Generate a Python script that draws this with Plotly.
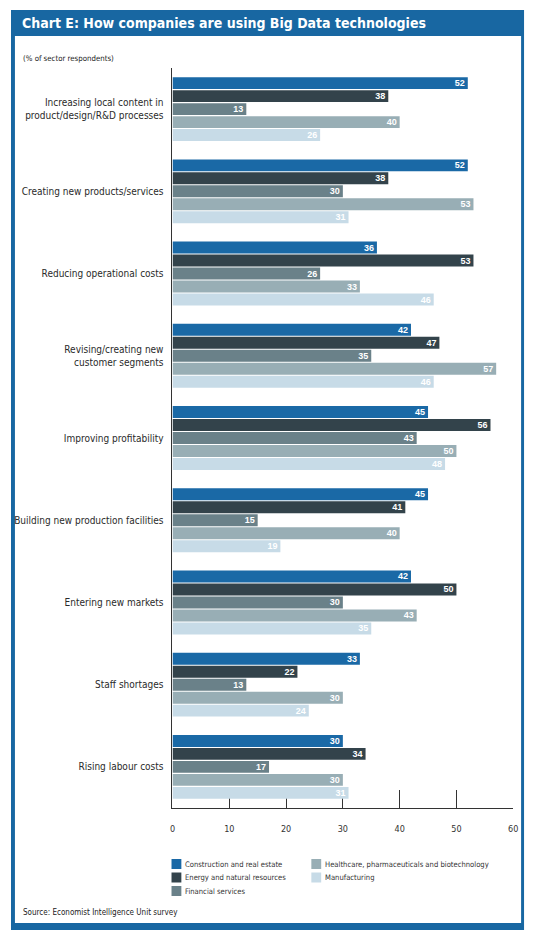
import plotly.graph_objects as go

# the page body keeps its default 8px margin, so the figure is drawn 8px in
OFF = 8
W, H = 540 - 2 * OFF, 945 - 2 * OFF

# chart data
categories = [
    "Increasing local content in<br>product/design/R&D processes",
    "Creating new products/services",
    "Reducing operational costs",
    "Revising/creating new<br>customer segments",
    "Improving profitability",
    "Building new production facilities",
    "Entering new markets",
    "Staff shortages",
    "Rising labour costs",
]
sectors = [
    "Construction and real estate",
    "Energy and natural resources",
    "Financial services",
    "Healthcare, pharmaceuticals and biotechnology",
    "Manufacturing",
]
construction = [52, 52, 36, 42, 45, 45, 42, 33, 30]
energy = [38, 38, 53, 47, 56, 41, 50, 22, 34]
financial = [13, 30, 26, 35, 43, 15, 30, 13, 17]
healthcare = [40, 53, 33, 57, 50, 40, 43, 30, 30]
manufacturing = [26, 31, 46, 46, 48, 19, 35, 24, 31]
x_ticks = [0, 10, 20, 30, 40, 50, 60]

series = [construction, energy, financial, healthcare, manufacturing]
colors = ["#1a69a6", "#33434b", "#6a8189", "#98aeb5", "#c7dbe7"]
frame_blue = "#1867a2"
FONT = "Liberation Sans Narrow, DejaVu Sans Condensed, Roboto, sans-serif"


# window pixel position -> paper fraction (margins are zero)
def px(x):
    return (x - OFF) / W


def py(y):
    return 1 - (y - OFF) / H


fig = go.Figure()
for name, vals, col in zip(sectors, series, colors):
    fig.add_trace(go.Bar(
        y=categories, x=vals, name=name, orientation="h",
        marker=dict(color=col, line=dict(width=0)),
        text=vals, texttemplate="%{text}",
        textposition="inside", insidetextanchor="end",
        textangle=0, constraintext="none",
        textfont=dict(family="Liberation Sans, Arial, sans-serif", size=9,
                      color="white", weight="bold"),
        showlegend=False,
    ))

# frame: blue box with white inside, header strip on top
shapes = [
    dict(type="rect", xref="paper", yref="paper", layer="below",
         x0=px(8), x1=px(529), y0=py(930), y1=py(10),
         fillcolor=frame_blue, line=dict(width=0)),
    dict(type="rect", xref="paper", yref="paper", layer="below",
         x0=px(12), x1=px(526), y0=py(923), y1=py(36),
         fillcolor="white", line=dict(width=0)),
]

annotations = [
    dict(text="<b>Chart E: How companies are using Big Data technologies</b>",
         x=px(17), y=py(23), xref="paper", yref="paper",
         xanchor="left", yanchor="middle", showarrow=False,
         font=dict(family=FONT, size=14, color="white")),
    dict(text="(% of sector respondents)",
         x=px(18), y=py(59), xref="paper", yref="paper",
         xanchor="left", yanchor="middle", showarrow=False,
         font=dict(family=FONT, size=7.8, color="#222")),
    dict(text="Source: Economist Intelligence Unit survey",
         x=px(18), y=py(912), xref="paper", yref="paper",
         xanchor="left", yanchor="middle", showarrow=False,
         font=dict(family=FONT, size=8, color="#222")),
]

# legend in two columns (3 + 2)
for i, (name, col) in enumerate(zip(sectors, colors)):
    c, r = (0, i) if i < 3 else (1, i - 3)
    lx = [171, 313][c]
    ly = 864 + 13.5 * r
    shapes.append(dict(type="rect", xref="paper", yref="paper",
                       x0=px(lx), x1=px(lx + 10), y0=py(ly + 5), y1=py(ly - 5),
                       fillcolor=col, line=dict(width=0)))
    annotations.append(dict(text=name, x=px(lx + 12), y=py(ly),
                            xref="paper", yref="paper", xanchor="left",
                            yanchor="middle", showarrow=False,
                            font=dict(family=FONT, size=7.6, color="#333")))

fig.update_layout(
    width=W, height=H,
    margin=dict(l=0, r=0, t=0, b=0),
    paper_bgcolor="white", plot_bgcolor="rgba(0,0,0,0)",
    barmode="group", bargap=0.21, bargroupgap=0.08,
    shapes=shapes, annotations=annotations,
    font=dict(family=FONT, color="#333"),
)
# axes go under the bars, so the tick marks hide behind them
fig.update_xaxes(
    domain=[px(172), px(518)], range=[0, 60], layer="below traces",
    tickvals=x_ticks, ticks="inside", ticklen=18, tickwidth=1,
    tickcolor="#333", showline=True, linecolor="#333", linewidth=1,
    showgrid=False, zeroline=False, ticklabelstandoff=12,
    tickfont=dict(family=FONT, size=9, color="#333"),
)
fig.update_yaxes(
    domain=[py(808), py(68)], autorange="reversed", type="category",
    layer="below traces",
    showline=True, linecolor="#333", linewidth=1, ticks="",
    showgrid=False, ticklabelstandoff=6,
    tickfont=dict(family=FONT, size=10, color="#2a2a2a"),
)

fig.write_html("out.html")
